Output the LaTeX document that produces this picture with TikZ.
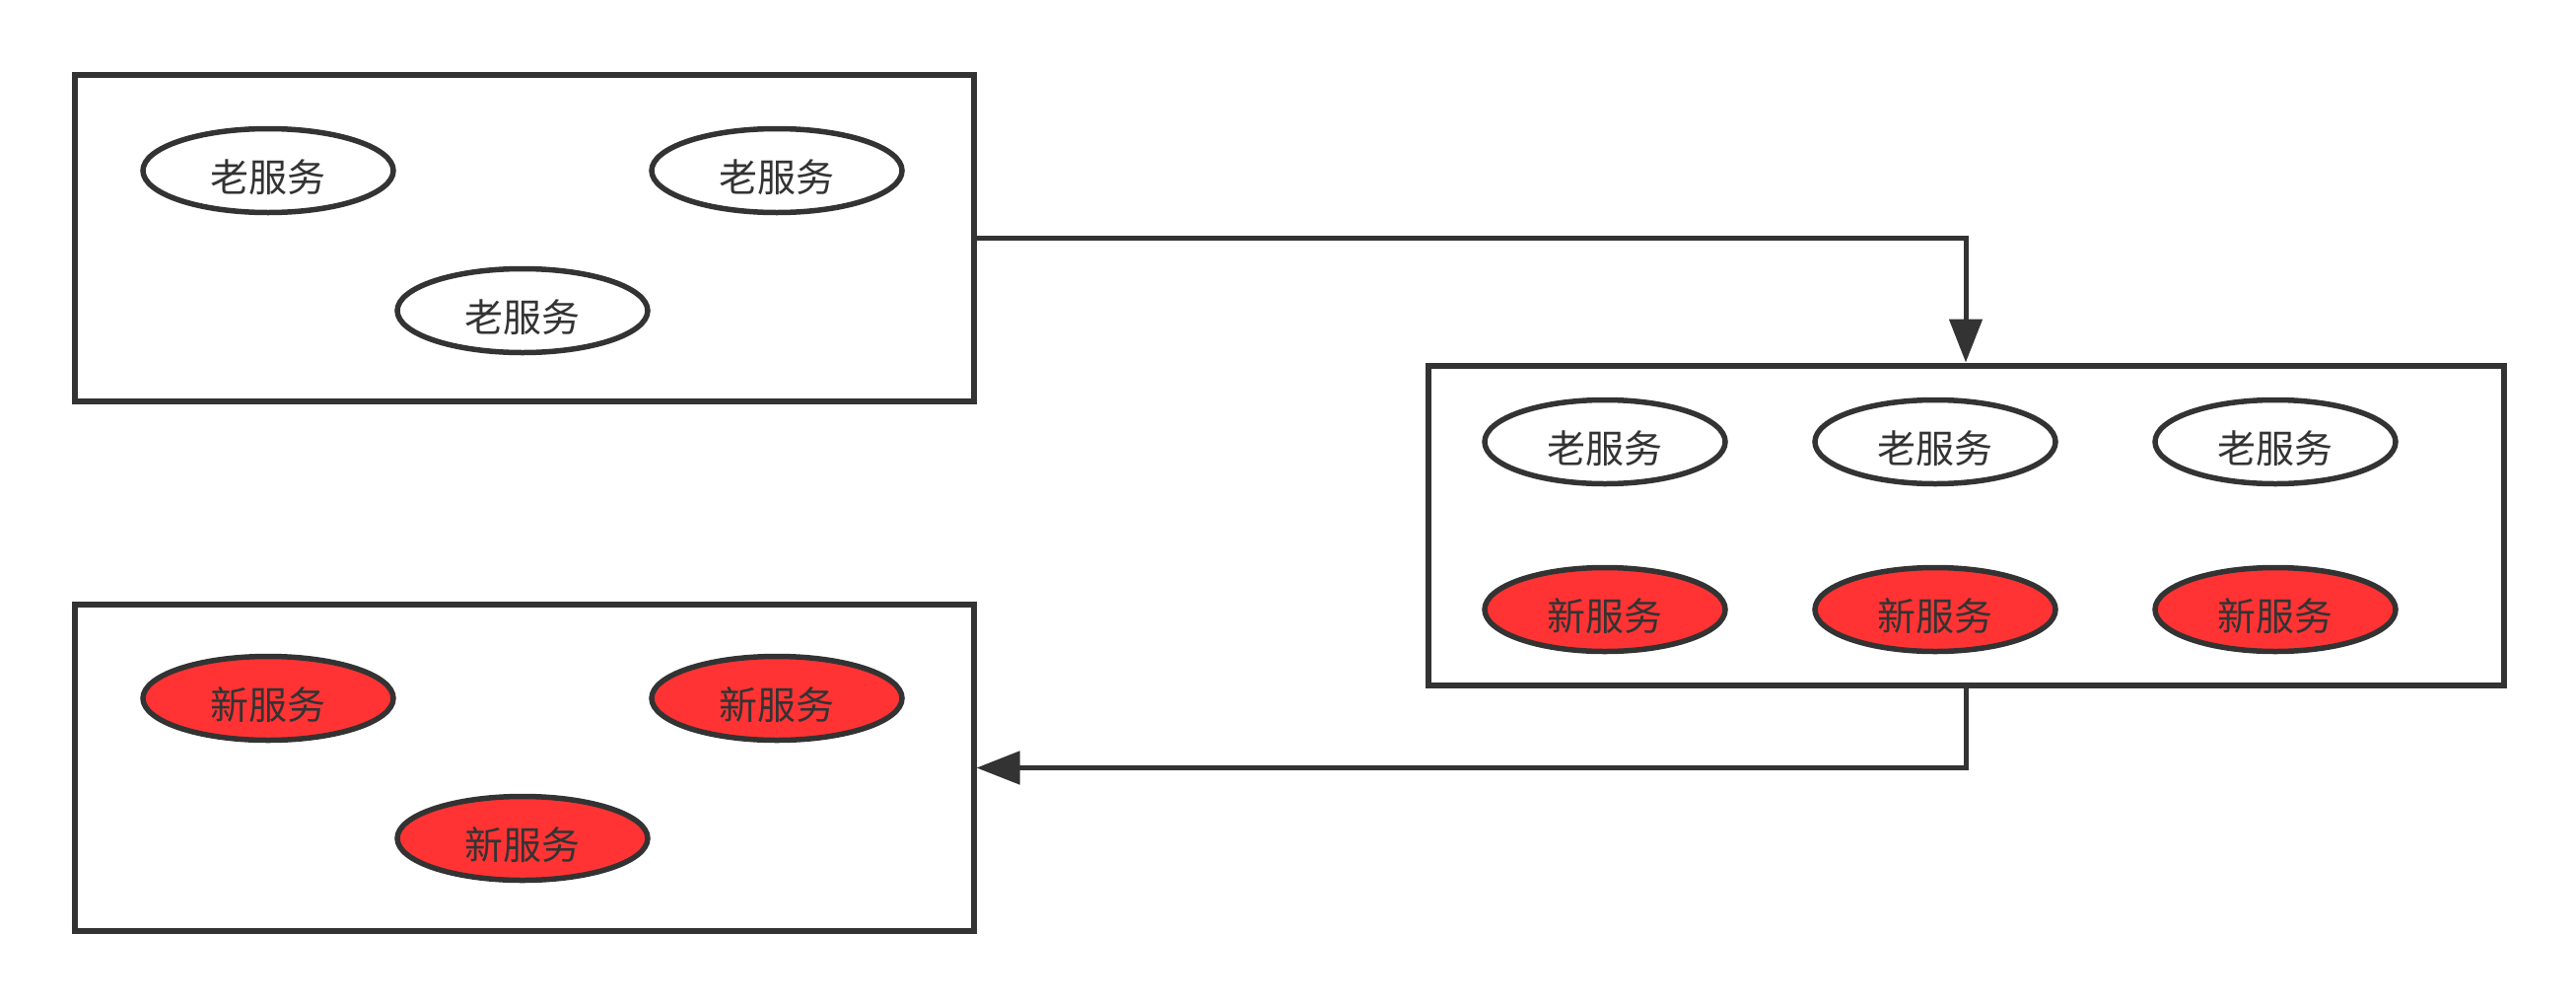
\documentclass[tikz,border=0pt]{standalone}
\usepackage{fontspec}
\newfontfamily\cjk{Noto Sans CJK SC}
\usetikzlibrary{positioning, arrows.meta, shapes.geometric}
\definecolor{ink}{HTML}{333333}
\definecolor{svcred}{HTML}{FF3333}

\begin{document}
\begin{tikzpicture}[
  x=1pt, y=-1pt,
  >={Triangle[length=44pt, width=33pt]},
  every node/.style={font=\cjk\fontsize{39}{44}\selectfont, text=ink},
  grp/.style    = {draw=ink, line width=6pt, inner sep=0pt, minimum width=912pt, minimum height=331pt},
  svc/.style    = {ellipse, draw=ink, line width=5.5pt, inner sep=0pt, text height=43pt, text depth=0pt,
                   minimum width=254pt, minimum height=85pt},
  oldsvc/.style = {svc, fill=white},
  newsvc/.style = {svc, fill=svcred},
  arr/.style    = {->, line width=5pt, draw=ink},
]
  \useasboundingbox (0,0) rectangle (2613,1020);
  % Group boxes: old cluster, mixed cluster, new cluster.
  \node[grp]                                              (oldgrp) at (531.5,241)  {};
  \node[grp, minimum width=1091pt, minimum height=324pt] (mixgrp) at (1994,532.5) {};
  \node[grp]                                              (newgrp) at (531.5,778.5) {};
  % Services inside the left boxes.
  \node[oldsvc] (o1) at (272,173) {老服务};
  \node[oldsvc] (o2) at (788,173) {老服务};
  \node[oldsvc] (o3) at (530,315) {老服务};
  \node[newsvc] (n1) at (272,708) {新服务};
  \node[newsvc] (n2) at (788,708) {新服务};
  \node[newsvc] (n3) at (530,850) {新服务};
  % Mixed box: old row above, new row below.
  \foreach \i/\x in {1/1628, 2/1963, 3/2308} {
    \node[oldsvc, minimum width=244pt] (mo\i) at (\x,448) {老服务};
    \node[newsvc, minimum width=244pt] (mn\i) at (\x,618) {新服务};
  }
  \draw[arr] (oldgrp.east) -| (mixgrp.north);
  \draw[arr] (mixgrp.south) |- (newgrp.east);
\end{tikzpicture}
\end{document}
